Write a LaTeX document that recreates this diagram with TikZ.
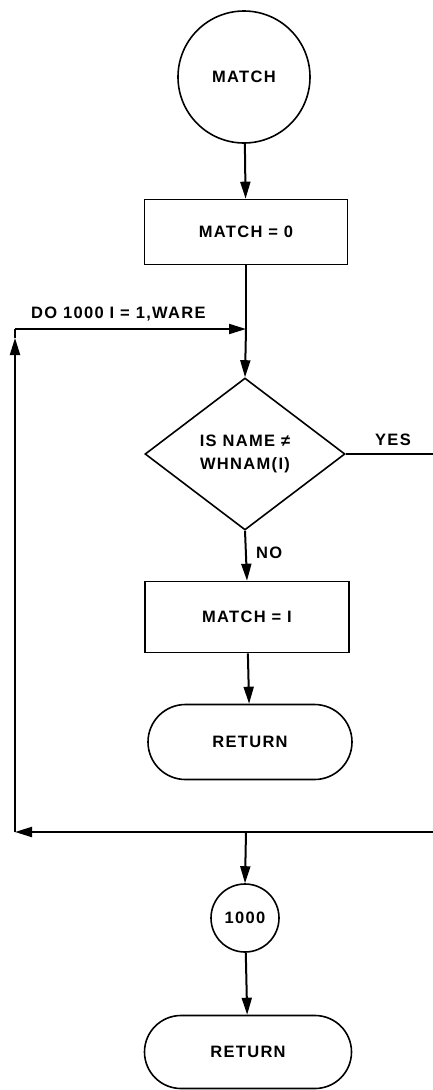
\documentclass[tikz,border=0pt]{standalone}
\usepackage{fontspec}
\setmainfont{Liberation Sans}[LetterSpace=8]
\usetikzlibrary{shapes.geometric,shapes.misc,arrows.meta}
\begin{document}
\begin{tikzpicture}[x=1pt,y=-1pt,
  every node/.style={font=\fontsize{16.5}{23}\selectfont\bfseries},
  line/.style={line width=2pt},
  arr/.style={line width=2pt, -{Triangle[length=17pt,width=10pt]}},
  conn/.style={draw, line width=1.6pt, inner sep=0pt},
  termcircle/.style={conn, circle},
  procbox/.style={conn, rectangle},
  decision/.style={conn, diamond, align=center},
  terminal/.style={conn, rounded rectangle},
  lbl/.style={inner sep=0pt}]
\useasboundingbox (0,0) rectangle (433,1090);

% flow nodes
\node[termcircle, minimum size=132pt] (start) at (244,77) {MATCH};
\node[procbox, minimum width=203pt, minimum height=65pt] (init) at (246,232) {MATCH = 0};
\node[decision, minimum width=200pt, minimum height=152pt] (test) at (245,454) {IS NAME ≠\\WHNAM(I)};
\node[procbox, minimum width=204pt, minimum height=71pt] (found) at (247,617) {MATCH = I};
\node[terminal, minimum width=204pt, minimum height=75pt] (ret1) at (250,742) {RETURN};
\node[termcircle, minimum size=68pt] (cont) at (245,918) {1000};
\node[terminal, minimum width=207pt, minimum height=73pt] (ret2) at (248,1052) {RETURN};

% loop routing points
\coordinate (entry) at (246,329);
\coordinate (topleft) at (15,329);
\coordinate (upmark) at (15,338);
\coordinate (botleft) at (15,832);
\coordinate (loopend) at (246,832);
\coordinate (yesout) at (433,454);
\coordinate (backin) at (433,832);

% connectors
\draw[arr] (start) -- (init);
\draw[line] (init.south) -- (entry);
\draw[arr] (entry) -- (test.north);
\draw[arr] (test.south) -- (found.north);
\draw[arr] (found) -- (ret1);
\draw[line] (test.east) -- (yesout);
\draw[line] (backin) -- (loopend);
\draw[arr] (loopend) -- (botleft);
\draw[arr] (botleft) -- (upmark);
\draw[line] (upmark) -- (topleft);
\draw[arr] (topleft) -- (entry);
\draw[arr] (loopend) -- (cont.north);
\draw[arr] (cont) -- (ret2);

% labels
\node[lbl, anchor=base west] (dolbl) at (31,318) {DO 1000 I = 1,WARE};
\node[lbl, anchor=base] (yeslbl) at (393,445) {YES};
\node[lbl, anchor=base west] (nolbl) at (256,558) {NO};
\end{tikzpicture}
\end{document}
